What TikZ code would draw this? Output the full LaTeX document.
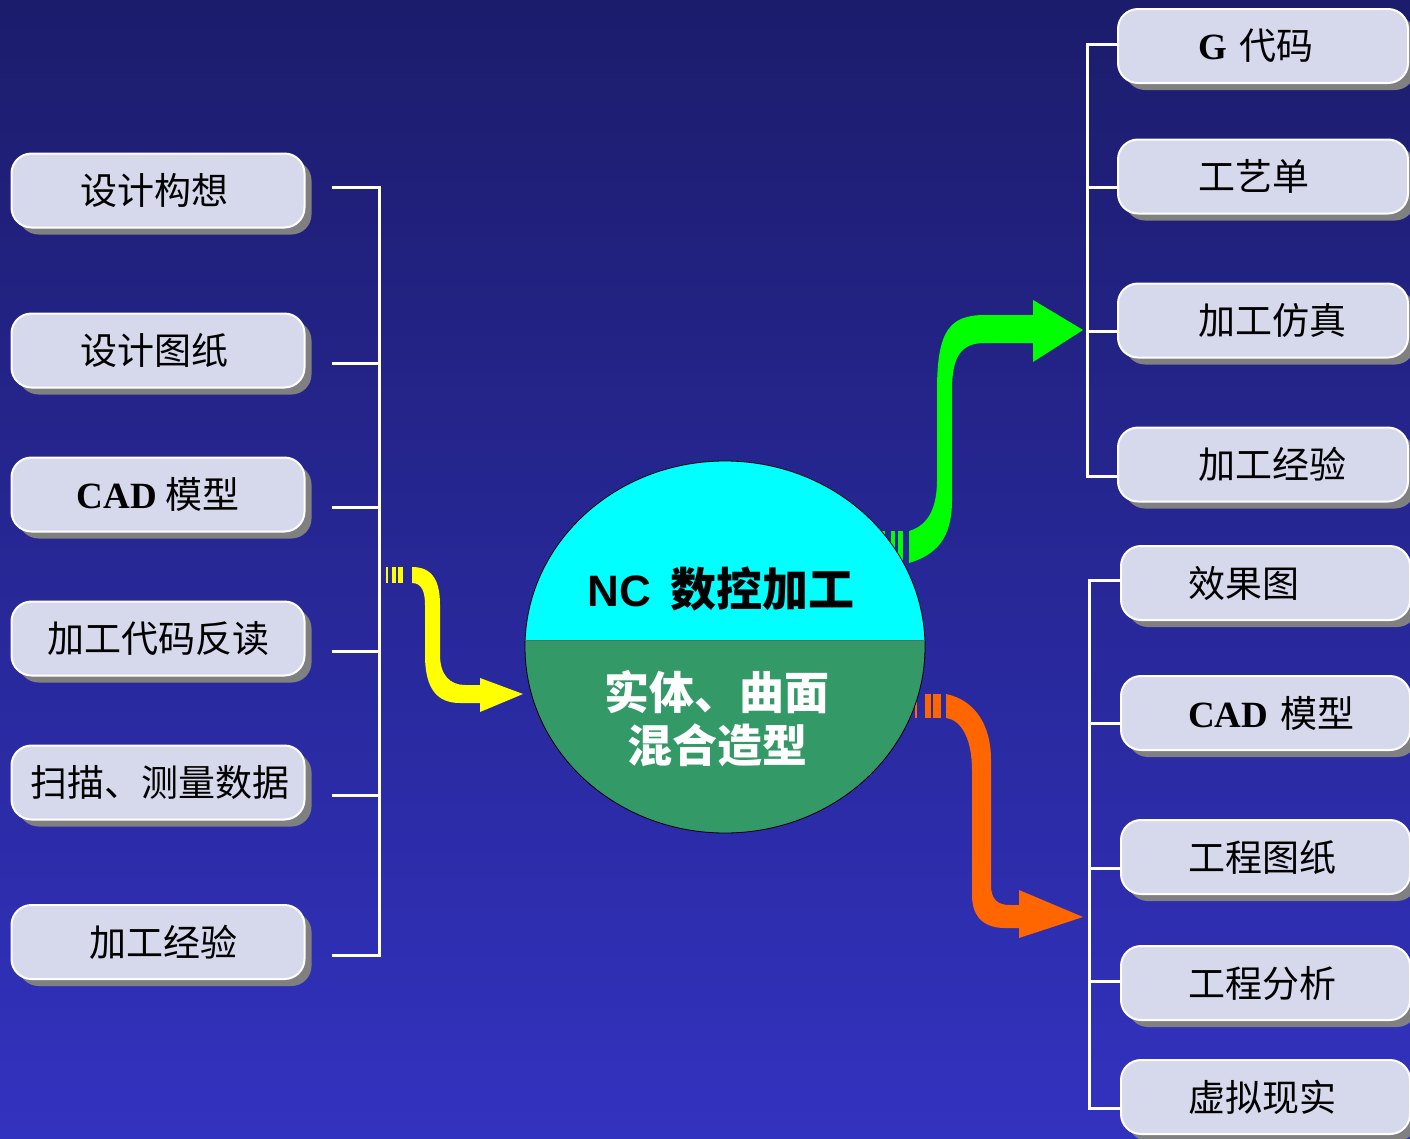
\documentclass[tikz,border=0pt]{standalone}
\usepackage{fontspec}
\setmainfont{Liberation Serif}
\newfontfamily\cjk{Noto Sans CJK SC}
\newfontfamily\sfb{Liberation Sans}
\usetikzlibrary{shadows}
\definecolor{bgtop}{RGB}{28,28,108}
\definecolor{bgbot}{RGB}{50,50,192}
\definecolor{boxfill}{RGB}{214,216,236}
\definecolor{seagrn}{RGB}{51,153,102}
\definecolor{disccyan}{RGB}{0,255,255}
\definecolor{arrgreen}{RGB}{0,255,0}
\definecolor{arryellow}{RGB}{255,255,0}
\definecolor{arrorange}{RGB}{255,102,0}
\tikzset{
  boxnode/.style={draw=white, line width=2pt, fill=boxfill, rounded corners=20pt,
    inner sep=0pt, minimum height=74pt, font=\cjk\fontsize{37}{42}\selectfont,
    drop shadow={shadow xshift=7pt, shadow yshift=-7pt, fill=gray, opacity=1}},
  leftbox/.style={boxnode, minimum width=293pt},
  rightbox/.style={boxnode, minimum width=290pt, text width=290pt, align=left},
  rightbox2/.style={boxnode, minimum width=289pt, text width=289pt, align=left},
  bracket/.style={draw=white, line width=3pt},
}
\begin{document}
\begin{tikzpicture}[x=1pt,y=-1pt]
\shade[top color=bgtop, bottom color=bgbot] (0,0) rectangle (1410,1138);
\useasboundingbox (0,0) rectangle (1410,1138);
\clip (0,0) rectangle (1410,1138);

% left boxes
\node[leftbox] (l1) at (158,190.5) {\hspace*{-8pt}设计构想};
\node[leftbox] (l2) at (158,350.5) {\hspace*{-8pt}设计图纸};
\node[leftbox] (l3) at (158,494.5) {{\bfseries\rmfamily CAD} 模型};
\node[leftbox] (l4) at (158,638.5) {加工代码反读};
\node[leftbox] (l5) at (158,782.5) {\hspace*{4pt}扫描、测量数据};
\node[leftbox] (l6) at (158,942) {\hspace*{10pt}加工经验};

% right top boxes
\node[rightbox] (r1) at (1263,46) {\hspace*{80pt}{\bfseries\rmfamily G} 代码};
\node[rightbox] (r2) at (1263,176.5) {\hspace*{80pt}工艺单};
\node[rightbox] (r3) at (1263,320.5) {\hspace*{80pt}加工仿真};
\node[rightbox] (r4) at (1263,464.5) {\hspace*{80pt}加工经验};

% right bottom boxes
\node[rightbox2] (s1) at (1265.5,583) {\hspace*{67pt}效果图};
\node[rightbox2] (s2) at (1265.5,713) {\hspace*{67pt}{\bfseries\rmfamily CAD} 模型};
\node[rightbox2] (s3) at (1265.5,857) {\hspace*{67pt}工程图纸};
\node[rightbox2] (s4) at (1265.5,983) {\hspace*{67pt}工程分析};
\node[rightbox2] (s5) at (1265.5,1097) {\hspace*{67pt}虚拟现实};

% left bracket
\coordinate (lb1) at (332,187);
\coordinate (lb2) at (332,363);
\coordinate (lb3) at (332,507);
\coordinate (lb4) at (332,651);
\coordinate (lb5) at (332,795);
\coordinate (lb6) at (332,955);
\draw[bracket] (lb1) -- (379,187) -- (379,955) -- (lb6);
\foreach \c in {lb2,lb3,lb4,lb5} \draw[bracket] (\c) -- (\c -| 379,0);

% right top bracket
\draw[bracket] (r1.west |- 0,44) -- (1087,44) -- (1087,476) -- (r4.west |- 0,476);
\draw[bracket] (1087,187) -- (r2.west |- 0,187);
\draw[bracket] (1087,331) -- (r3.west |- 0,331);

% right bottom bracket
\draw[bracket] (s1.west |- 0,580) -- (1089,580) -- (1089,1108) -- (s5.west |- 0,1108);
\draw[bracket] (1089,723) -- (s2.west |- 0,723);
\draw[bracket] (1089,868) -- (s3.west |- 0,868);
\draw[bracket] (1089,981) -- (s4.west |- 0,981);

% yellow arrow
\fill[arryellow] (385.7,567) rectangle (388.3,583);
\fill[arryellow] (391.7,567) rectangle (396,583);
\fill[arryellow] (397.7,567) rectangle (403.3,583);
\fill[arryellow] (412,567) .. controls (432,567) and (440,580) .. (440,605) -- (440,655)
  .. controls (440,675) and (450,685) .. (465,685) -- (480,685) -- (480,678) -- (523,694)
  -- (480,712) -- (480,703) -- (460,703) .. controls (438,703) and (425,690) .. (425,655)
  -- (425,605) .. controls (425,592) and (422,583) .. (412,583) -- cycle;

% green arrow
\fill[arrgreen] (882,531) rectangle (885,563);
\fill[arrgreen] (891,531) rectangle (895,563);
\fill[arrgreen] (898,531) rectangle (903,563);
\fill[arrgreen] (909,531) .. controls (930,525) and (937,505) .. (937,480) -- (937,390)
  .. controls (937,330) and (950,315) .. (985,315) -- (1033,315) -- (1033,300) -- (1083,330)
  -- (1033,362) -- (1033,343) -- (985,343) .. controls (962,343) and (952,355) .. (952,390)
  -- (952,500) .. controls (952,540) and (935,555) .. (909,563) -- cycle;

% orange arrow
\fill[arrorange] (915,694) rectangle (917,718);
\fill[arrorange] (925,694) rectangle (931,718);
\fill[arrorange] (933,694) rectangle (941,718);
\fill[arrorange] (946,694) .. controls (975,700) and (991,725) .. (991,760) -- (991,885)
  .. controls (991,900) and (998,905) .. (1010,905) -- (1019,905) -- (1019,890) -- (1083,917)
  -- (1019,938) -- (1019,928) -- (1005,928) .. controls (985,928) and (972,918) .. (972,895)
  -- (972,770) .. controls (972,740) and (962,720) .. (946,718) -- cycle;

% central disc
\begin{scope}
  \clip (500,440) rectangle (950,640);
  \fill[disccyan] (725,647) ellipse [x radius=200, y radius=186];
\end{scope}
\begin{scope}
  \clip (500,640) rectangle (950,850);
  \fill[seagrn] (725,647) ellipse [x radius=200, y radius=186];
\end{scope}
\draw[black, line width=0.8pt] (725,647) ellipse [x radius=200, y radius=186];
\draw[black!60, line width=0.8pt] (525,640) -- (925,640);
\node[font=\fontsize{44}{50}\selectfont] (nc) at (721,589)
  {{\sfb\bfseries NC}\hspace{20pt}{\cjk\bfseries\fontsize{46}{50}\selectfont 数控加工}};
\node[font=\cjk\bfseries\fontsize{45}{53}\selectfont, text=white, align=center] (solid) at (717,719)
  {实体、曲面\\混合造型};
\end{tikzpicture}
\end{document}
